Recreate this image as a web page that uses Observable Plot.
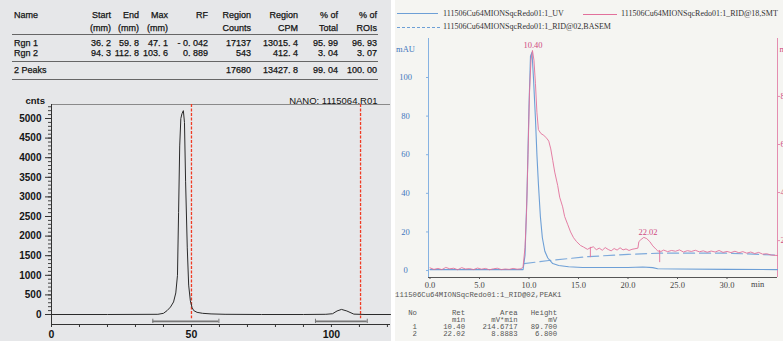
<!DOCTYPE html>
<html><head><meta charset="utf-8">
<script src="https://cdn.jsdelivr.net/npm/d3@7"></script>
<script src="https://cdn.jsdelivr.net/npm/@observablehq/plot@0.6"></script>
<style>
html,body{margin:0;padding:0;overflow:hidden;background:#fff;}
body{width:783px;height:341px;position:relative;}
#left{position:absolute;left:0;top:0;width:391px;height:341px;background:#e6e7e9;overflow:hidden;}
#right{position:absolute;left:395px;top:0;width:388px;height:341px;background:#f5f5f2;overflow:hidden;}
.abs{position:absolute;white-space:pre;}
svg{position:absolute;max-width:none !important;}
#left .abs{-webkit-text-stroke:0.25px #111;}
</style></head><body>
<div id="left"></div><div id="right"></div>
<script>
// ---------- LEFT: radio-TLC region table ----------
const tblHead1 = ["Name","Start","End","Max","RF","Region","Region","% of","% of"];
const tblHead2 = ["","(mm)","(mm)","(mm)","","Counts","CPM","Total","ROIs"];
const rgnNames = ["Rgn 1","Rgn 2"];
const rgnStart = [36.2, 94.3];
const rgnEnd = [59.8, 112.8];
const rgnMax = [47.1, 103.6];
const rgnRF = [-0.042, 0.889];
const rgnCounts = [17137, 543];
const rgnCPM = [13015.4, 412.4];
const rgnPctTotal = [95.99, 3.04];
const rgnPctROI = [96.93, 3.07];
const totalLabel = "2 Peaks";
const totalCounts = 17680, totalCPM = 13427.8, totalPctTotal = 99.04, totalPctROI = 100.00;
const tlcTitle = "NANO: 1115064.R01";
const tlcYLabel = "cnts";

// radio-TLC trace (mm, counts)
const tlcMM = [0,20,38,40,41.3,42.5,43.6,44.4,45,45.4,45.8,46.2,46.6,47.1,47.5,47.9,48.5,49,49.6,50.2,50.8,52,54,57,62,75,90,98,100.4,102,103.6,105.5,108,112,121.1];
const tlcCounts = [0,0,5,30,100,190,320,550,1000,2600,4300,5000,5120,5200,4900,3400,1700,750,350,180,100,55,30,15,5,0,0,5,20,90,130,90,10,0,0];
const tlcRedLines = [50.0, 110.4];

// ---------- RIGHT: HPLC ----------
const legendUV = "111506Cu64MIONSqcRedo01:1_UV";
const legendRID = "111506Cu64MIONSqcRedo01:1_RID@18,SMT";
const legendBase = "111506Cu64MIONSqcRedo01:1_RID@02,BASEM";
const peakTitle = "111506Cu64MIONSqcRedo01:1_RID@02,PEAK1";
const peakNo = [1, 2];
const peakRet = [10.40, 22.02];
const peakArea = [214.6717, 8.8883];
const peakHeight = [89.700, 6.800];

const uvT = [0,5,9.4,9.6,9.8,10.0,10.15,10.3,10.45,10.65,10.8,10.95,11.15,11.35,11.6,11.9,12.4,13,14,15.4,20,21.5,22.5,23,25,30,35.1];
const uvV = [0.5,0.5,0.5,8,40,85,111,113,100,79,60,45,28,17,10,6.5,3.6,2.6,2,1.6,1.6,1.8,1.5,0.9,0.8,0.6,0.5];

const ridT = [0,0.4,0.8,1.2,1.6,2.0,2.4,2.8,3.2,3.6,4.0,4.4,4.8,5.2,5.6,6.0,6.4,6.8,7.2,7.6,8.0,8.4,8.8,9.2,
  9.4,9.6,9.75,9.9,10.05,10.2,10.35,10.5,10.65,10.8,10.95,11.2,11.5,11.8,12.0,12.2,12.4,12.6,12.9,13.1,13.4,13.6,13.9,14.2,14.5,14.8,15.2,15.5,15.9,16.2,16.5,
  16.8,17.1,17.4,17.7,18.0,18.3,18.6,18.9,19.2,19.5,19.8,20.1,20.4,20.7,21.0,21.1,21.3,21.6,21.9,22.2,22.5,22.8,23.0,23.3,
  23.6,24.0,24.4,24.8,25.2,25.6,26.0,26.4,26.8,27.2,27.6,28.0,28.4,28.8,29.2,29.6,30.0,30.4,30.8,31.2,31.6,32.0,32.4,32.8,33.2,33.6,34.0,34.5,35.1];
const ridV = [1.4,0.6,1.1,0.5,1.6,0.9,1.2,0.4,1.5,0.8,1.0,0.5,1.3,0.7,1.1,0.4,0.9,1.2,0.5,0.8,0.6,1.1,0.7,0.9,
  2,12,30,60,92,109,114,109,97,82,73,71,70,68.5,67,63,57,51,44,38,33,28,24,20,17,15,13,12.2,11,11.8,12.3,
  10.8,11.6,10.5,11.9,10.9,10.2,11.4,10.6,11.8,10.7,11.2,10.4,11.0,11.3,11.6,15,16,17.2,16.5,15,12.8,11.2,10.2,9.8,
  10.6,9.8,10.4,10.0,10.7,9.6,10.3,9.9,10.5,9.7,10.2,9.5,10.1,9.6,10.4,9.4,9.9,9.3,10.0,9.2,9.8,9.0,9.6,8.8,9.4,8.5,8.7,8.0,7.8];

const baseT = [9.5,12,16,20,23.3,30,35.1];
const baseV = [3.6,5.2,7.2,8.4,9.0,9.0,8.0];

const ridMarkT = [16.2, 23.2];
const ridMarkTop = [12, 10.4];
const ridMarkBottom = [6.7, 4.1];

const hplcXTicks = [0,5,10,15,20,25,30];
const hplcYTicks = [0,20,40,60,80,100];
const mvTicks = [20,40,60,80];

// ---------- helpers ----------
function addText(parent, txt, x, yc, o = {}) {
  const {align="left", size=9, font="'Liberation Sans',Arial,sans-serif", color="#151515", weight="normal", lh=12} = o;
  const d = document.createElement("div");
  d.className = "abs";
  d.textContent = txt;
  d.style.font = `${weight} ${size}px ${font}`;
  d.style.color = color;
  d.style.lineHeight = lh + "px";
  d.style.top = (yc - lh/2) + "px";
  if (align === "right") { d.style.left = (x - 300) + "px"; d.style.width = "300px"; d.style.textAlign = "right"; }
  else d.style.left = x + "px";
  parent.appendChild(d);
  return d;
}
function addLine(parent, x, y, w, color, style="solid", h=1) {
  const d = document.createElement("div");
  d.style.position = "absolute";
  d.style.left = x + "px"; d.style.top = y + "px"; d.style.width = w + "px";
  d.style.borderTop = `${h}px ${style} ${color}`;
  parent.appendChild(d);
}
const fmt = (v, k) => v.toFixed(k).replace("-", "- ").replace(".", ". ");

// ---------- left table ----------
const left = document.getElementById("left");
const colRight = [null,111,139,168,208,251,298,338,377];
tblHead1.forEach((h,i) => i === 0 ? addText(left, h, 14, 15) : addText(left, h, colRight[i], 15, {align:"right"}));
tblHead2.forEach((h,i) => { if (h) addText(left, h, colRight[i], 28, {align:"right"}); });
addLine(left, 12, 34, 366, "#666");
rgnNames.forEach((n,i) => {
  const y = 43 + i*9.5;
  const vals = [fmt(rgnStart[i],1), fmt(rgnEnd[i],1), fmt(rgnMax[i],1), fmt(rgnRF[i],3), String(rgnCounts[i]), fmt(rgnCPM[i],1), fmt(rgnPctTotal[i],2), fmt(rgnPctROI[i],2)];
  addText(left, n, 14, y);
  vals.forEach((v,j) => addText(left, v, colRight[j+1], y, {align:"right"}));
});
addLine(left, 12, 61, 366, "#666");
addText(left, totalLabel, 14, 70);
[[5,String(totalCounts)],[6,fmt(totalCPM,1)],[7,fmt(totalPctTotal,2)],[8,fmt(totalPctROI,2)]].forEach(([j,v]) => addText(left, v, colRight[j], 70, {align:"right"}));
addLine(left, 12, 79, 366, "#666");

// ---------- left plot ----------
const tlcData = tlcMM.map((x,i) => ({x, y: tlcCounts[i]}));
const regions = rgnStart.map((s,i) => ({start: s, end: rgnEnd[i]}));
const regionEnds = regions.flatMap(r => [r.start, r.end]);
const yMin = -255, yMax = 5357, xMax = 121.1;
const L = Plot.plot({
  width: 391, height: 255, marginLeft: 51, marginRight: 1, marginTop: 18, marginBottom: 17,
  style: {background: "transparent", overflow: "visible", fontFamily: "'Liberation Sans',Arial,sans-serif", color: "#151515"},
  x: {domain: [0, xMax], axis: null},
  y: {domain: [yMin, yMax], axis: null},
  marks: [
    Plot.ruleY([yMax], {stroke: "#8a8a8a"}),
    Plot.ruleY([yMin], {stroke: "#333"}),
    Plot.ruleX([0], {stroke: "#333"}),
    Plot.axisY(d3.range(0, 5301, 100), {label: null, tickSize: 3, tickFormat: () => "", stroke: "#444"}),
    Plot.axisY(d3.range(0, 5001, 500), {label: null, tickSize: 6, tickPadding: 4, fontWeight: "bold", fontSize: 10, stroke: "#333", tickFormat: d => String(d)}),
    Plot.axisX(d3.range(0, 121, 10), {label: null, anchor: "bottom", tickSize: 3, tickFormat: () => "", stroke: "#333"}),
    Plot.axisX([0, 50, 100], {label: null, anchor: "bottom", tickSize: 0, tickPadding: 6, fontWeight: "bold", fontSize: 10.5, tickFormat: d => String(d)}),
    Plot.ruleX(tlcRedLines, {y1: yMax, y2: -110, stroke: "#f03c24", strokeWidth: 1.3, strokeDasharray: "3,1.5"}),
    Plot.ruleY(regions, {x1: "start", x2: "end", y: -175, stroke: "#777", strokeWidth: 1.6}),
    Plot.ruleX(regionEnds, {y1: -120, y2: -230, stroke: "#777", strokeWidth: 1}),
    Plot.line(tlcData, {x: "x", y: "y", stroke: "#2a2a2a", strokeWidth: 1}),
    Plot.text([tlcYLabel], {frameAnchor: "top-left", dx: -26, dy: -7, textAnchor: "start", fontSize: 9.5, fontWeight: "bold"}),
    Plot.text([tlcTitle], {frameAnchor: "top-right", dx: -13, dy: -7, textAnchor: "end", fontSize: 9.5, fill: "#111"})
  ]
});
L.style.left = "0px"; L.style.top = "86px";
left.appendChild(L);

// ---------- right legend ----------
const right = document.getElementById("right");
const serif = "'Liberation Serif','Times New Roman',serif";
const blueC = "#6d9fd6", pinkC = "#e2709b", pinkText = "#cf4a82", blueText = "#3f76bd";
addLine(right, 2, 13, 41, blueC);
addText(right, legendUV, 48, 14, {font: serif, size: 8, color: "#333"});
addLine(right, 188, 14, 34, pinkC);
addText(right, legendRID, 226, 14, {font: serif, size: 8, color: "#333"});
addLine(right, 2, 27, 43, blueC, "dashed");
addText(right, legendBase, 48, 27, {font: serif, size: 8, color: "#333"});

// ---------- right plot ----------
const uvData = uvT.map((t,i) => ({t, v: uvV[i]}));
const ridData = ridT.map((t,i) => ({t, v: ridV[i]}));
const baseData = baseT.map((t,i) => ({t, v: baseV[i]}));
const ridMarks = ridMarkT.map((t,i) => ({t, top: ridMarkTop[i], bottom: ridMarkBottom[i]}));
const peaks = peakRet.map(r => {
  const near = ridData.concat(uvData).filter(d => Math.abs(d.t - r) < 0.5);
  return {t: r, v: d3.max(near, d => d.v), label: r.toFixed(2)};
});
const hx0 = -0.15, hx1 = 35.1, hy0 = -3.6, hy1 = 120.2;
const mvToMau = d3.scaleLinear([20, 80], [15.5, 90.2]);
const R = Plot.plot({
  width: 405, height: 270, marginLeft: 33, marginRight: 23, marginTop: 8, marginBottom: 23,
  style: {background: "transparent", overflow: "visible", fontFamily: serif, color: "#444"},
  x: {domain: [hx0, hx1], axis: null},
  y: {domain: [hy0, hy1], axis: null},
  marks: [
    Plot.ruleX([hx0], {stroke: "#86b2e2"}),
    Plot.ruleX([hx1], {stroke: "#e58db0"}),
    Plot.ruleY([hy0], {stroke: "#555"}),
    Plot.axisY(hplcYTicks, {label: null, anchor: "left", tickSize: 2, tickPadding: 21, textAnchor: "middle", fill: blueText, stroke: "#86b2e2", fontSize: 8.5, tickFormat: d => String(d)}),
    Plot.axisY(mvTicks.map(mvToMau), {label: null, anchor: "right", tickSize: 2, tickPadding: 1, fill: pinkText, stroke: "#e58db0", fontSize: 8.5, tickFormat: d => String(Math.round(mvToMau.invert(d)))}),
    Plot.axisX(hplcXTicks, {label: null, anchor: "bottom", tickSize: 2, tickPadding: 2, fill: "#444", stroke: "#555", fontSize: 8.5, tickFormat: d => d.toFixed(1)}),
    Plot.text(["min"], {x: 33.1, frameAnchor: "bottom", dy: 9, fill: "#444", fontSize: 8.5}),
    Plot.text(["mAU"], {frameAnchor: "top-left", dx: -23, dy: 7, textAnchor: "middle", fill: blueText, fontSize: 8.5}),
    Plot.text(["mV"], {frameAnchor: "top-right", dx: 2, dy: 7, textAnchor: "start", fill: pinkText, fontSize: 8.5}),
    Plot.line(baseData, {x: "t", y: "v", stroke: "#7eaadb", strokeWidth: 1.2, strokeDasharray: "11,5"}),
    Plot.line(uvData, {x: "t", y: "v", stroke: blueC, strokeWidth: 1.1}),
    Plot.line(ridData, {x: "t", y: "v", stroke: pinkC, strokeWidth: 0.9}),
    Plot.ruleX(ridMarks, {x: "t", y1: "top", y2: "bottom", stroke: pinkC, strokeWidth: 0.9}),
    Plot.text(peaks, {x: "t", y: "v", text: "label", dy: -5, fill: pinkText, fontSize: 8.5})
  ]
});
R.style.left = "0px"; R.style.top = "30px";
right.appendChild(R);

// ---------- right peak table ----------
const mono = "'Liberation Mono','DejaVu Sans Mono',monospace";
const monoOpt = {font: mono, size: 7.3, color: "#555", lh: 8};
addText(right, peakTitle, 0, 295, monoOpt);
const hdr1 = "   No" + "Ret".padStart(11) + "Area".padStart(12) + "Height".padStart(9);
const hdr2 = "     " + "min".padStart(11) + "mV*min".padStart(12) + "mV".padStart(9);
addText(right, hdr1, 0, 313, monoOpt);
addText(right, hdr2, 0, 320, monoOpt);
peakNo.forEach((n,i) => {
  const line = ("    " + n) + peakRet[i].toFixed(2).padStart(11) + peakArea[i].toFixed(4).padStart(12) + peakHeight[i].toFixed(3).padStart(9);
  addText(right, line, 0, 327 + i*6.5, monoOpt);
});
</script></body></html>
